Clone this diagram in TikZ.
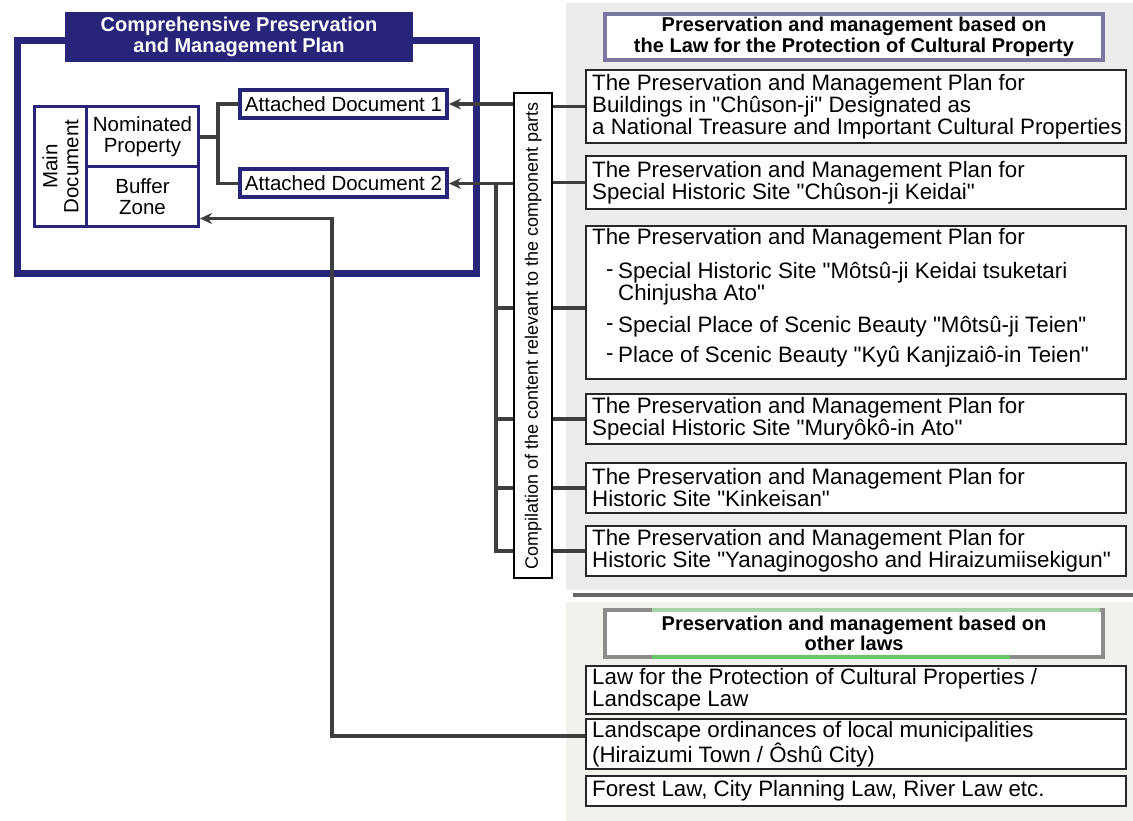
\documentclass[tikz,border=0pt]{standalone}
\usepackage{fontspec}
\setmainfont{Liberation Sans}[Ligatures=TeXOff]
\usetikzlibrary{arrows.meta,calc}
\definecolor{navy}{RGB}{40,36,122}
\definecolor{connc}{RGB}{62,62,62}
\definecolor{hdrb}{RGB}{122,120,162}
\definecolor{grn}{RGB}{100,200,100}
\definecolor{lgrn}{RGB}{165,212,165}
\definecolor{bgtop}{RGB}{236,236,236}
\definecolor{bgbot}{RGB}{242,242,236}
\newcommand\fsz[2]{\fontsize{#1}{#2}\selectfont}
\begin{document}
\begin{tikzpicture}[x=1pt,y=-1pt,
  conn/.style={draw=connc, line width=3.8pt},
  arr/.style={conn, -{Stealth[length=12pt,width=11pt]}},
  rbox/.style={draw=black!85, line width=2pt, fill=white, anchor=north west, inner sep=0pt, minimum width=540pt},
  btxt/.style={anchor=west, inner sep=0pt, align=left, font=\fsz{22.3}{22}},
  hdr/.style={fill=white, line width=3.5pt, minimum width=498pt, inner sep=0pt, align=center, font=\fsz{20}{20.5}\bfseries},
  adoc/.style={draw=navy, line width=4pt, fill=white, minimum width=207pt, minimum height=28pt, inner sep=1pt, font=\fsz{20.5}{21}},
  cell/.style={anchor=north west, inner sep=0pt, draw=navy, line width=3pt},
  ltxt/.style={align=center, inner sep=0pt, font=\fsz{20.5}{21}}]
\useasboundingbox (0,0) rectangle (1133,821);
\fill[white] (0,0) rectangle (1133,821);
% backgrounds of right column
\fill[bgtop] (566,3) rectangle (1133,590);
\fill[bgbot] (566,602) rectangle (1133,821);
\draw[black!60, line width=4.5pt] (573,595) -- (1133,595);

% left frame and title
\node[draw=navy, line width=7pt, anchor=north west, minimum width=459pt, minimum height=233pt, inner sep=0pt] (frame) at (14,37) {};
\node[fill=navy, minimum width=348pt, minimum height=50pt, inner sep=0pt, text=white, align=center, font=\fsz{20}{21}\bfseries] (title) at (239,37) {Comprehensive Preservation\\and Management Plan};

% main document
\node[cell, minimum width=52pt, minimum height=120pt] (mdl) at (33,105) {};
\node[cell, minimum width=112pt, minimum height=60pt] (nom) at (85,105) {};
\node[cell, minimum width=112pt, minimum height=60pt] (buf) at (85,165) {};
\node[ltxt, rotate=90] (mdt) at (mdl.center) {Main\\Document};
\node[ltxt] (nomt) at (nom.center) {Nominated\\Property};
\node[ltxt] (buft) at (buf.center) {Buffer\\Zone};

% attached documents
\node[adoc] (ad1) at (343.5,104) {Attached Document 1};
\node[adoc] (ad2) at (343.5,183.5) {Attached Document 2};

% compilation box
\node[draw=black, line width=2.2pt, fill=white, anchor=north west, minimum width=38pt, minimum height=485pt, inner sep=0pt] (cmp) at (513,92) {};
\node[rotate=90, inner sep=0pt, font=\fsz{18}{18}] (cmpt) at (cmp.center) {Compilation of the content relevant to the component parts};

% headers
\node[hdr, draw=hdrb, minimum height=46pt] (h1) at (854,37) {Preservation and management based on\\the Law for the Protection of Cultural Property};
\node[hdr, draw=black!45, minimum height=47pt] (h2) at (854,633.5) {Preservation and management based on\\other laws};
\draw[lgrn, line width=3.5pt] (652,610) -- (1100,610);
\draw[grn, line width=4pt] (652,657) -- (1010,657);

% right boxes
\node[rbox, minimum height=73pt] (p1) at (585,69) {};
\node[btxt] at ([xshift=7pt]p1.west) {The Preservation and Management Plan for\\Buildings in "Chûson-ji" Designated as\\a National Treasure and Important Cultural Properties};
\node[rbox, minimum height=53pt] (p2) at (585,155) {};
\node[btxt] at ([xshift=7pt]p2.west) {The Preservation and Management Plan for\\Special Historic Site "Chûson-ji Keidai"};
\node[rbox, minimum height=153pt] (p3) at (585,225) {};
\node[btxt] at (592,239) {The Preservation and Management Plan for};
\node[btxt] at (606,273) {-};
\node[btxt] at (618,284) {Special Historic Site "Môtsû-ji Keidai tsuketari\\Chinjusha Ato"};
\node[btxt] at (606,327) {-};
\node[btxt] at (618,327) {Special Place of Scenic Beauty "Môtsû-ji Teien"};
\node[btxt] at (606,357) {-};
\node[btxt] at (618,357) {Place of Scenic Beauty "Kyû Kanjizaiô-in Teien"};
\node[rbox, minimum height=50pt] (p4) at (585,393) {};
\node[btxt] at ([xshift=7pt]p4.west) {The Preservation and Management Plan for\\Special Historic Site "Muryôkô-in Ato"};
\node[rbox, minimum height=50pt] (p5) at (585,462) {};
\node[btxt] at ([xshift=7pt]p5.west) {The Preservation and Management Plan for\\Historic Site "Kinkeisan"};
\node[rbox, minimum height=50pt] (p6) at (585,525) {};
\node[btxt] at ([xshift=7pt]p6.west) {The Preservation and Management Plan for\\Historic Site "Yanaginogosho and Hiraizumiisekigun"};

\node[rbox, minimum height=48pt] (l1) at (585,665) {};
\node[btxt] at ([xshift=7pt]l1.west) {Law for the Protection of Cultural Properties /\\Landscape Law};
\node[rbox, minimum height=50pt] (l2) at (585,718) {};
\node[btxt] at ([xshift=7pt]l2.west) {Landscape ordinances of local municipalities\\(Hiraizumi Town / Ôshû City)};
\node[rbox, minimum height=30pt] (l3) at (585,775) {};
\node[btxt] at ([xshift=7pt]l3.west) {Forest Law, City Planning Law, River Law etc.};

% connectors
\coordinate (jx) at (218,0);
\coordinate (vx) at (496,0);
\coordinate (bx) at (332,0);
\coordinate (p3in) at ([yshift=-5.5pt]p3.west);
\coordinate (l2out) at ([yshift=8pt]l2.west);
\coordinate (bzin) at ([yshift=-22pt]buf.east);

\draw[conn] (nom.east |- 0,137) -- (jx |- 0,137);
\draw[conn] (ad1.west) -| (jx |- ad2.west) -- (ad2.west);

\foreach \p in {p1,p2,p4,p5,p6} \draw[conn] (\p.west) -- (\p.west -| cmp.east);
\draw[conn] (p3in) -- (p3in -| cmp.east);

\draw[arr] (ad1.east -| cmp.west) -- (ad1.east);
\draw[arr] (ad2.east -| cmp.west) -- (ad2.east);

\draw[conn] (ad2.east -| vx) -- (p6.west -| vx) -- (p6.west -| cmp.west);
\draw[conn] (p3in -| vx) -- (p3in -| cmp.west);
\draw[conn] (p4.west -| vx) -- (p4.west -| cmp.west);
\draw[conn] (p5.west -| vx) -- (p5.west -| cmp.west);

\draw[arr] (l2out) -- (l2out -| bx) -- (bx |- bzin) -- (bzin);
\end{tikzpicture}
\end{document}
